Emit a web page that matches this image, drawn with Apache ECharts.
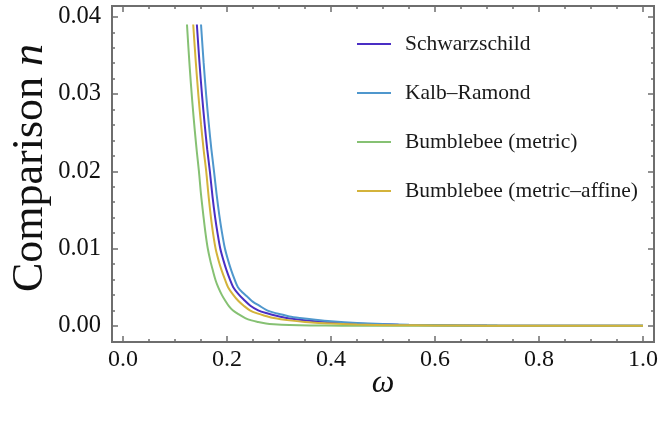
<!DOCTYPE html>
<html><head><meta charset="utf-8">
<script src="https://cdn.jsdelivr.net/npm/echarts@6/dist/echarts.min.js"></script>
<style>html,body{margin:0;padding:0;background:#fff}#c{width:659px;height:427px}</style>
</head><body><div id="c"></div>
<script>
// ---- data ----
const seriesNames = ['Schwarzschild', 'Kalb\u2013Ramond', 'Bumblebee (metric)', 'Bumblebee (metric\u2013affine)'];
const schwOmega = [0.142,0.147,0.152,0.157,0.162,0.167,0.172,0.177,0.182,0.187,0.193,0.199,0.205,0.212,0.222,0.232,0.245,0.26,0.275,0.295,0.315,0.34,0.37,0.42,0.47,0.53,0.6,0.7,0.85,1.0];
const schwN     = [0.039,0.0341,0.0298,0.0261,0.0228,0.020,0.0168,0.0141,0.0119,0.010,0.0085,0.0072,0.0061,0.005,0.0041,0.0034,0.0026,0.002,0.00165,0.0013,0.001,0.00078,0.0006,0.00037,0.00024,0.00014,0.00008,0.00003,0.00001,0];
const krOmega   = [0.150,0.155,0.160,0.165,0.170,0.175,0.180,0.185,0.190,0.196,0.202,0.208,0.214,0.221,0.230,0.240,0.250,0.262,0.277,0.29,0.305,0.32,0.34,0.37,0.40,0.45,0.5,0.55,0.63,0.72,0.85,1.0];
const krN       = [0.039,0.0341,0.0298,0.0261,0.0228,0.020,0.0170,0.0144,0.0122,0.010,0.0085,0.0072,0.0061,0.005,0.0043,0.0037,0.0031,0.0026,0.002,0.0017,0.00147,0.0012,0.001,0.00077,0.00058,0.00036,0.00022,0.00014,0.00007,0.00003,0.00001,0];
const bmOmega   = [0.123,0.128,0.133,0.138,0.142,0.146,0.150,0.155,0.159,0.163,0.168,0.173,0.178,0.183,0.190,0.197,0.204,0.211,0.222,0.235,0.247,0.26,0.275,0.29,0.32,0.36,0.42,0.5,0.7,1.0];
const bmN       = [0.039,0.0337,0.0292,0.0253,0.0225,0.020,0.0170,0.0140,0.0118,0.010,0.0084,0.0071,0.0059,0.005,0.0040,0.0032,0.0025,0.002,0.0015,0.001,0.0007,0.0005,0.0003,0.0002,0.0001,0.00004,0.00001,0,0,0];
const bmaOmega  = [0.135,0.140,0.145,0.150,0.155,0.160,0.165,0.171,0.178,0.184,0.190,0.196,0.202,0.212,0.222,0.232,0.244,0.258,0.273,0.29,0.32,0.35,0.40,0.45,0.52,0.6,0.7,1.0];
const bmaN      = [0.039,0.0341,0.0298,0.0261,0.0228,0.020,0.0165,0.0130,0.010,0.0084,0.0071,0.0060,0.005,0.0040,0.0032,0.0026,0.002,0.0016,0.0013,0.001,0.0007,0.0005,0.00028,0.00016,0.00008,0.00004,0.00001,0];
const xMajorTicks = [0, 0.2, 0.4, 0.6, 0.8, 1.0];
const xMinorTicks = [0.05,0.1,0.15,0.25,0.3,0.35,0.45,0.5,0.55,0.65,0.7,0.75,0.85,0.9,0.95];
const yMajorTicks = [0, 0.01, 0.02, 0.03, 0.04];
const yMinorTicks = [0.002,0.004,0.006,0.008,0.012,0.014,0.016,0.018,0.022,0.024,0.026,0.028,0.032,0.034,0.036,0.038];
const xTitle = '\u03c9';
const yTitle = 'Comparison';
const yTitleVar = 'n';

// ---- chart ----
const colors = ['#4a2ec4', '#4f97cd', '#86c173', '#d4b33b'];
const frame = '#6e6e6e';
const serif = '"Liberation Serif", "Times New Roman", serif';
const X_MIN = -0.0212, X_MAX = 1.0212, Y_MIN = -0.0021, Y_MAX = 0.0414;

function xAx(pos, ticks, len, labels, extra) {
  return Object.assign({
    type: 'value', position: pos, min: X_MIN, max: X_MAX,
    axisLine: { show: false, onZero: false },
    axisTick: { show: true, inside: true, length: len, customValues: ticks, lineStyle: { color: frame, width: 1.5 } },
    axisLabel: labels ? { show: true, customValues: ticks, formatter: v => v.toFixed(1), margin: 6,
      fontFamily: serif, fontSize: 24, color: '#111' } : { show: false },
    splitLine: { show: false }
  }, extra || {});
}
function yAx(pos, ticks, len, labels, extra) {
  return Object.assign({
    type: 'value', position: pos, min: Y_MIN, max: Y_MAX,
    axisLine: { show: false, onZero: false },
    axisTick: { show: true, inside: true, length: len, customValues: ticks, lineStyle: { color: frame, width: 1.5 } },
    axisLabel: labels ? { show: true, customValues: ticks, formatter: v => v.toFixed(2), margin: 11,
      fontFamily: serif, fontSize: 24.5, color: '#111' } : { show: false },
    splitLine: { show: false }
  }, extra || {});
}

const omegas = [schwOmega, krOmega, bmOmega, bmaOmega];
const ns = [schwN, krN, bmN, bmaN];

const chart = echarts.init(document.getElementById('c'), null, { renderer: 'canvas' });
chart.setOption({
  animation: false,
  backgroundColor: '#fff',
  grid: { left: 112, right: 5, top: 6, bottom: 85, show: true, borderColor: frame, borderWidth: 2,
    backgroundColor: 'transparent', outerBoundsMode: 'none', containLabel: false },
  legend: {
    orient: 'vertical', left: 352, top: 28, itemWidth: 34, itemHeight: 2, itemGap: 27, icon: 'rect',
    data: seriesNames,
    textStyle: { fontFamily: serif, fontSize: 21.5, color: '#1a1a1a', lineHeight: 20, padding: [0, 0, 0, 9] }
  },
  xAxis: [
    xAx('bottom', xMajorTicks, 6, true, {
      name: xTitle, nameLocation: 'middle', nameGap: 26, nameMoveOverlap: false,
      nameTextStyle: { fontFamily: serif, fontSize: 32, fontStyle: 'italic', color: '#111' }
    }),
    xAx('bottom', xMinorTicks, 3, false),
    xAx('top', xMajorTicks, 6, false),
    xAx('top', xMinorTicks, 3, false)
  ],
  yAxis: [
    yAx('left', yMajorTicks, 6, true, {
      name: '{a|' + yTitle + ' }{b|' + yTitleVar + '}', nameLocation: 'middle', nameGap: 60, nameMoveOverlap: false,
      nameTextStyle: { padding: [0, 0, 0, 12], rich: {
        a: { fontFamily: serif, fontSize: 44, color: '#111' },
        b: { fontFamily: serif, fontSize: 44, fontStyle: 'italic', color: '#111' }
      } }
    }),
    yAx('left', yMinorTicks, 3, false),
    yAx('right', yMajorTicks, 6, false),
    yAx('right', yMinorTicks, 3, false)
  ],
  series: seriesNames.map((name, i) => ({
    name, type: 'line', xAxisIndex: 0, yAxisIndex: 0,
    data: omegas[i].map((w, k) => [w, ns[i][k]]),
    showSymbol: false, smooth: 0.3,
    lineStyle: { color: colors[i], width: 2 }, itemStyle: { color: colors[i] }
  }))
});
</script></body></html>
